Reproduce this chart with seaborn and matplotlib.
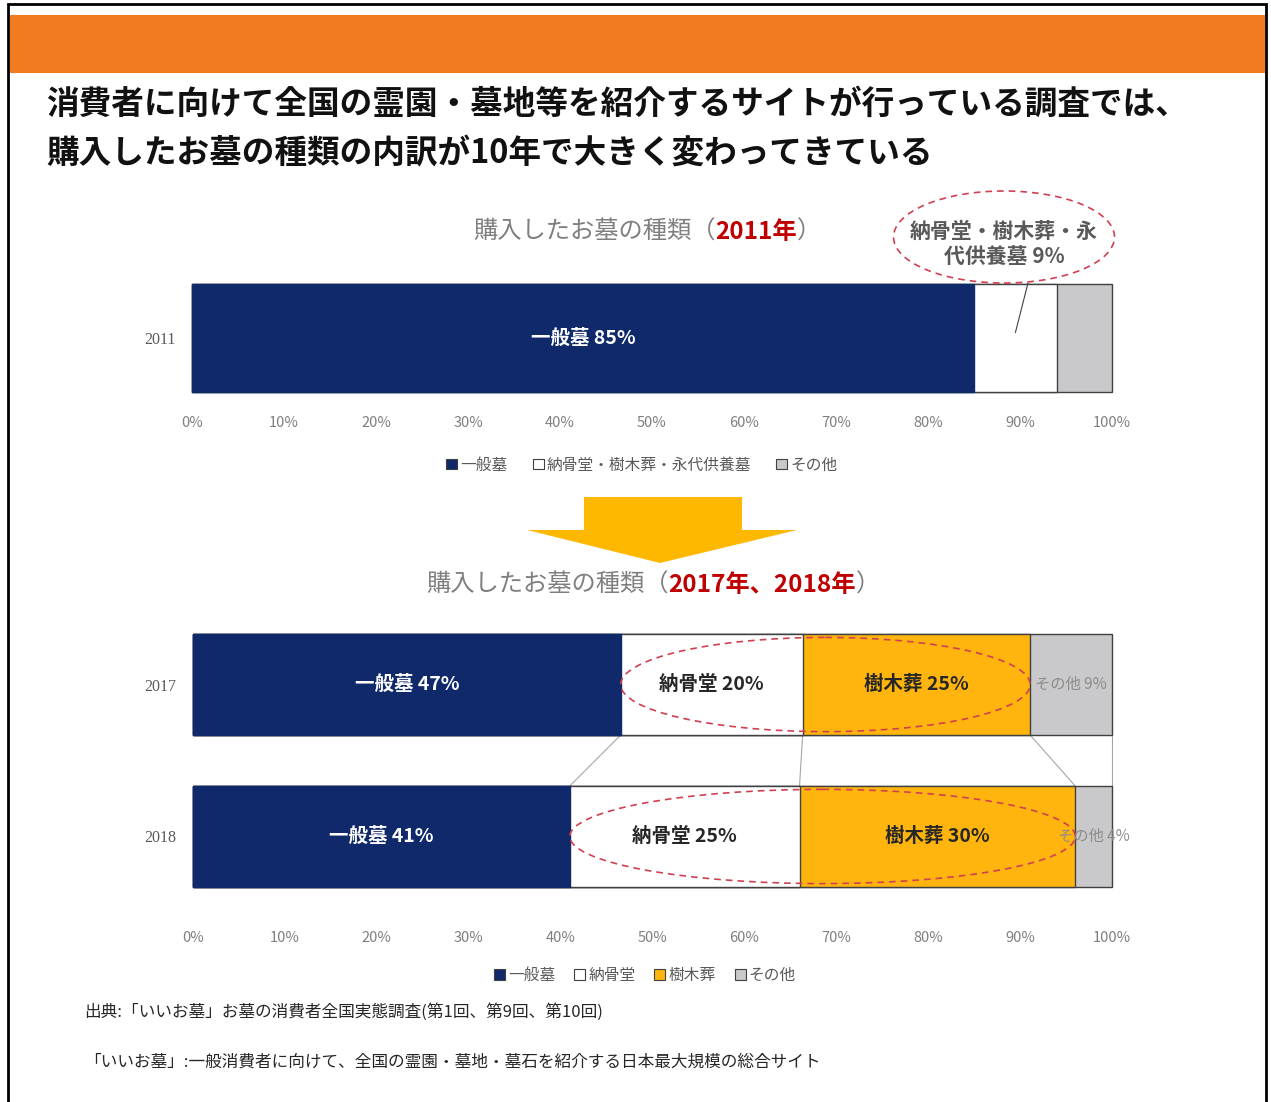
import pandas as pd
import matplotlib
matplotlib.use("Agg")
import matplotlib.pyplot as plt
from matplotlib.patches import Rectangle, Ellipse, Polygon, Patch
import seaborn as sns

# --- data ---
years_top = ["2011"]
cats_top = ["一般墓", "納骨堂・樹木葬・永代供養墓", "その他"]
vals_2011 = [85, 9, 6]

years_bottom = ["2017", "2018"]
cats_bottom = ["一般墓", "納骨堂", "樹木葬", "その他"]
vals_2017 = [47, 20, 25, 9]
vals_2018 = [41, 25, 30, 4]

pct_ticks = [0, 10, 20, 30, 40, 50, 60, 70, 80, 90, 100]

headline = ["消費者に向けて全国の霊園・墓地等を紹介するサイトが行っている調査では、",
            "購入したお墓の種類の内訳が10年で大きく変わってきている"]
source_lines = ["出典:「いいお墓」お墓の消費者全国実態調査(第1回、第9回、第10回)",
                "「いいお墓」:一般消費者に向けて、全国の霊園・墓地・墓石を紹介する日本最大規模の総合サイト"]

NAVY, WHITE, ORANGE, GRAY = "#10296B", "#FFFFFF", "#FFB50D", "#C9C9CB"
colors_top = {"一般墓": NAVY, "納骨堂・樹木葬・永代供養墓": WHITE, "その他": GRAY}
colors_bottom = {"一般墓": NAVY, "納骨堂": WHITE, "樹木葬": ORANGE, "その他": GRAY}
EDGE = "#404040"
RED_DASH = "#D04050"
TXT_GRAY = "#7F7F7F"

W, H = 1271, 1102


def fx(px):
    return px / W


def fy(py):
    return 1 - py / H


def stack_frame(years, cats, rows):
    recs = []
    for yr, vals in zip(years, rows):
        tot = sum(vals)
        cum = 0.0
        for c, v in zip(cats, vals):
            share = v / tot * 100
            cum += share
            recs.append(dict(year=yr, cat=c, value=v, share=share,
                             start=cum - share, end=cum))
    return pd.DataFrame(recs)


def draw_stack(ax, df, years, cats, colors, width):
    # draw cumulative bars from the longest to the shortest so they stack
    for c in reversed(cats):
        sub = df[df["cat"] == c]
        sns.barplot(data=sub, x="end", y="year", order=years, orient="h",
                    color=colors[c], saturation=1, width=width,
                    edgecolor=EDGE if colors[c] != NAVY else NAVY,
                    linewidth=1.0, errorbar=None, ax=ax)
    for p in ax.patches:
        p.set_clip_on(False)


def style_axis(ax, pad_x):
    ax.set_xlim(0, 100)
    ax.set_xticks(pct_ticks)
    ax.set_xticklabels([f"{t}%" for t in pct_ticks], color=TXT_GRAY,
                       fontsize=10.5)
    ax.tick_params(axis="x", length=0, pad=pad_x)
    ax.tick_params(axis="y", length=0, pad=12)
    for lab in ax.get_yticklabels():
        lab.set_family(["Liberation Serif"])
        lab.set_fontsize(11.5)
        lab.set_color("#595959")
    ax.set_xlabel("")
    ax.set_ylabel("")
    for s in ax.spines.values():
        s.set_visible(False)
    ax.set_facecolor("none")


def multi_text(fig, x_px, y_px, parts, size):
    renderer = fig.canvas.get_renderer()
    x = x_px
    for s, color, weight in parts:
        t = fig.text(fx(x), fy(y_px), s, color=color, fontsize=size,
                     fontweight=weight, va="center", ha="left")
        x += t.get_window_extent(renderer).width


sns.set_theme(style="white")
plt.rcParams["font.family"] = ["Noto Sans CJK JP", "DejaVu Sans"]

fig = plt.figure(figsize=(12.71, 11.02), dpi=100)

# frame and orange header band
fig.add_artist(Rectangle((fx(8), -0.01), fx(1266) - fx(8), fy(4) + 0.01,
                         transform=fig.transFigure, fill=False, ec="black", lw=2))
fig.add_artist(Rectangle((fx(10), fy(73)), fx(1255), 58 / H,
                         transform=fig.transFigure, color="#F27B21", lw=0))

fig.text(fx(46), fy(104), headline[0], fontsize=23.5, fontweight="bold",
         color="#111111", va="center")
fig.text(fx(46), fy(153), headline[1], fontsize=23.5, fontweight="bold",
         color="#111111", va="center")

# --- 2011 chart ---
df_top = stack_frame(years_top, cats_top, [vals_2011])
ax1 = fig.add_axes([fx(192), fy(392), 920 / W, 108 / H])
draw_stack(ax1, df_top, years_top, cats_top, colors_top, 1.0)
ax1.set_ylim(0.5, -0.5)
style_axis(ax1, 17)

main_top = df_top[df_top["cat"] == "一般墓"].iloc[0]
ax1.text(main_top["start"] + main_top["share"] / 2, 0,
         f'{main_top["cat"]} {main_top["value"]}%', color="white",
         fontsize=14, fontweight="bold", ha="center", va="center")

mid_top = df_top[df_top["cat"] == cats_top[1]].iloc[0]
fig.text(fx(1004), fy(244), f"納骨堂・樹木葬・永\n代供養墓 {mid_top['value']}%",
         fontsize=15, fontweight="bold", color="#595959", ha="center",
         va="center", linespacing=1.3)
fig.add_artist(Ellipse((fx(1004), fy(237)), 221 / W, 92 / H,
                       transform=fig.transFigure, fill=False, ec=RED_DASH,
                       lw=1.2, ls=(0, (4, 3))))
ax1.annotate("", xy=(mid_top["start"] + mid_top["share"] / 2, -0.05),
             xytext=(fx(1028), fy(283)), textcoords="figure fraction",
             arrowprops=dict(arrowstyle="-", color=EDGE, lw=0.8,
                             shrinkA=0, shrinkB=0))

multi_text(fig, 473, 232, [("購入したお墓の種類（", TXT_GRAY, "normal"),
                           ("2011年", "#C00000", "bold"),
                           ("）", TXT_GRAY, "normal")], 17.5)

fig.legend([Patch(facecolor=colors_top[c], edgecolor=EDGE, lw=0.8) for c in cats_top],
           cats_top, loc="center", bbox_to_anchor=(fx(642), fy(465)), ncol=3,
           frameon=False, fontsize=11.3, handlelength=0.7, handleheight=0.7,
           handletextpad=0.2, columnspacing=1.6, labelcolor="#595959")

# --- down arrow ---
arrow_pts = [(584, 497), (742, 497), (742, 530), (797, 530), (660, 563),
             (527, 530), (584, 530)]
fig.add_artist(Polygon([(fx(x), fy(y)) for x, y in arrow_pts], closed=True,
                       transform=fig.transFigure, color="#FFB800", lw=0))

multi_text(fig, 426, 585, [("購入したお墓の種類（", TXT_GRAY, "normal"),
                           ("2017年、2018年", "#C00000", "bold"),
                           ("）", TXT_GRAY, "normal")], 17.5)

# --- 2017 / 2018 chart ---
bar_w = 0.665
df_bot = stack_frame(years_bottom, cats_bottom, [vals_2017, vals_2018])
ax2 = fig.add_axes([fx(193), fy(887), 919 / W, 253 / H])
draw_stack(ax2, df_bot, years_bottom, cats_bottom, colors_bottom, bar_w)
ax2.set_ylim(1 + bar_w / 2, -bar_w / 2)
style_axis(ax2, 32)

# connector lines between segment boundaries
e17 = df_bot[df_bot["year"] == "2017"]["end"].tolist()
e18 = df_bot[df_bot["year"] == "2018"]["end"].tolist()
for a, b in zip(e17, e18):
    ax2.plot([a, b], [bar_w / 2, 1 - bar_w / 2], color="#A6A6A6", lw=0.8,
             zorder=0, clip_on=False)

for i, yr in enumerate(years_bottom):
    rows = df_bot[df_bot["year"] == yr]
    for _, r in rows.iterrows():
        cx = r["start"] + r["share"] / 2
        label = f'{r["cat"]} {r["value"]}%'
        if r["cat"] == "一般墓":
            ax2.text(cx, i, label, color="white", fontsize=14,
                     fontweight="bold", ha="center", va="center")
        elif r["cat"] == "その他":
            ax2.text(cx, i, label, color="#8C8C8C", fontsize=11,
                     ha="center", va="center")
        else:
            ax2.text(cx, i, label, color="#262626", fontsize=14,
                     fontweight="bold", ha="center", va="center")
    # dashed ellipse around 納骨堂 + 樹木葬
    left = rows[rows["cat"] == "納骨堂"]["start"].iloc[0]
    right = rows[rows["cat"] == "樹木葬"]["end"].iloc[0]
    ax2.add_patch(Ellipse(((left + right) / 2, i), right - left, 0.62,
                          fill=False, ec=RED_DASH, lw=1.2, ls=(0, (4, 3)),
                          clip_on=False, zorder=5))

fig.legend([Patch(facecolor=colors_bottom[c], edgecolor=EDGE, lw=0.8) for c in cats_bottom],
           cats_bottom, loc="center", bbox_to_anchor=(fx(645), fy(975)), ncol=4,
           frameon=False, fontsize=11.3, handlelength=0.7, handleheight=0.7,
           handletextpad=0.2, columnspacing=1.2, labelcolor="#595959")

fig.text(fx(84), fy(1012), source_lines[0], fontsize=12, color="#262626", va="center")
fig.text(fx(84), fy(1062), source_lines[1], fontsize=12, color="#262626", va="center")

fig.savefig("out.png", dpi=100)
plt.close(fig)
